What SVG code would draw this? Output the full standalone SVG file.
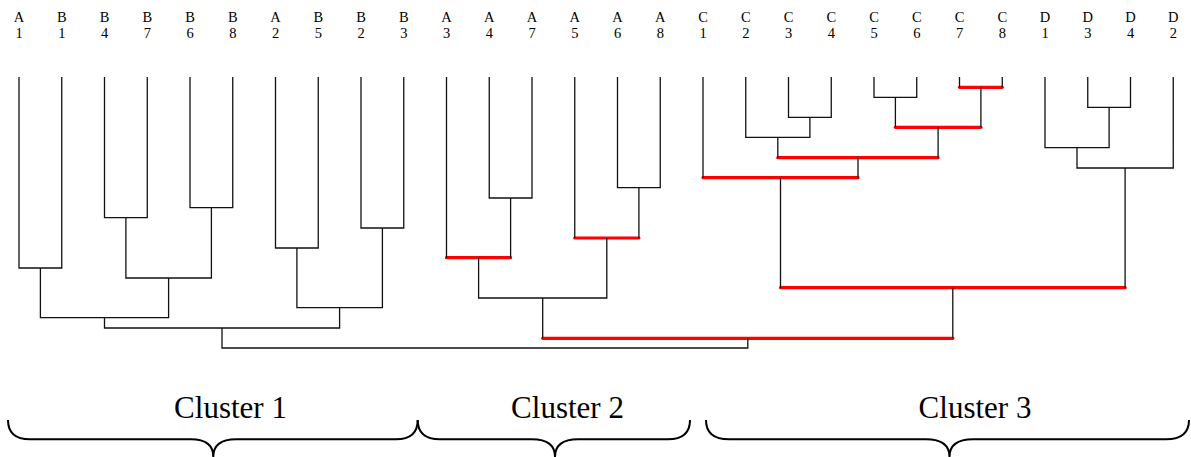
<svg xmlns="http://www.w3.org/2000/svg" width="1191" height="457" viewBox="0 0 1191 457">
<style>
.lbl{font-family:"Liberation Serif","Times New Roman",serif;font-size:14.5px;fill:#000;text-anchor:middle}
.cl{font-family:"Liberation Serif","Times New Roman",serif;font-size:31px;fill:#000;text-anchor:middle}
.k{fill:none;stroke:#111;stroke-width:1.3}
.r{fill:none;stroke:#ff0000;stroke-width:3.2;stroke-linecap:round}
.br{fill:none;stroke:#000;stroke-width:2}
</style>
<rect width="1191" height="457" fill="#fff"/>
<g id="leaves">
<g id="leaf-A1"><text class="lbl" x="19" y="21.5">A</text><text class="lbl" x="19" y="38">1</text></g>
<g id="leaf-B1"><text class="lbl" x="61.75" y="21.5">B</text><text class="lbl" x="61.75" y="38">1</text></g>
<g id="leaf-B4"><text class="lbl" x="104.5" y="21.5">B</text><text class="lbl" x="104.5" y="38">4</text></g>
<g id="leaf-B7"><text class="lbl" x="147.25" y="21.5">B</text><text class="lbl" x="147.25" y="38">7</text></g>
<g id="leaf-B6"><text class="lbl" x="190" y="21.5">B</text><text class="lbl" x="190" y="38">6</text></g>
<g id="leaf-B8"><text class="lbl" x="232.75" y="21.5">B</text><text class="lbl" x="232.75" y="38">8</text></g>
<g id="leaf-A2"><text class="lbl" x="275.5" y="21.5">A</text><text class="lbl" x="275.5" y="38">2</text></g>
<g id="leaf-B5"><text class="lbl" x="318.25" y="21.5">B</text><text class="lbl" x="318.25" y="38">5</text></g>
<g id="leaf-B2"><text class="lbl" x="361" y="21.5">B</text><text class="lbl" x="361" y="38">2</text></g>
<g id="leaf-B3"><text class="lbl" x="403.75" y="21.5">B</text><text class="lbl" x="403.75" y="38">3</text></g>
<g id="leaf-A3"><text class="lbl" x="446.5" y="21.5">A</text><text class="lbl" x="446.5" y="38">3</text></g>
<g id="leaf-A4"><text class="lbl" x="489.25" y="21.5">A</text><text class="lbl" x="489.25" y="38">4</text></g>
<g id="leaf-A7"><text class="lbl" x="532" y="21.5">A</text><text class="lbl" x="532" y="38">7</text></g>
<g id="leaf-A5"><text class="lbl" x="574.75" y="21.5">A</text><text class="lbl" x="574.75" y="38">5</text></g>
<g id="leaf-A6"><text class="lbl" x="617.5" y="21.5">A</text><text class="lbl" x="617.5" y="38">6</text></g>
<g id="leaf-A8"><text class="lbl" x="660.25" y="21.5">A</text><text class="lbl" x="660.25" y="38">8</text></g>
<g id="leaf-C1"><text class="lbl" x="703" y="21.5">C</text><text class="lbl" x="703" y="38">1</text></g>
<g id="leaf-C2"><text class="lbl" x="745.75" y="21.5">C</text><text class="lbl" x="745.75" y="38">2</text></g>
<g id="leaf-C3"><text class="lbl" x="788.5" y="21.5">C</text><text class="lbl" x="788.5" y="38">3</text></g>
<g id="leaf-C4"><text class="lbl" x="831.25" y="21.5">C</text><text class="lbl" x="831.25" y="38">4</text></g>
<g id="leaf-C5"><text class="lbl" x="874" y="21.5">C</text><text class="lbl" x="874" y="38">5</text></g>
<g id="leaf-C6"><text class="lbl" x="916.75" y="21.5">C</text><text class="lbl" x="916.75" y="38">6</text></g>
<g id="leaf-C7"><text class="lbl" x="959.5" y="21.5">C</text><text class="lbl" x="959.5" y="38">7</text></g>
<g id="leaf-C8"><text class="lbl" x="1002.25" y="21.5">C</text><text class="lbl" x="1002.25" y="38">8</text></g>
<g id="leaf-D1"><text class="lbl" x="1045" y="21.5">D</text><text class="lbl" x="1045" y="38">1</text></g>
<g id="leaf-D3"><text class="lbl" x="1087.75" y="21.5">D</text><text class="lbl" x="1087.75" y="38">3</text></g>
<g id="leaf-D4"><text class="lbl" x="1130.5" y="21.5">D</text><text class="lbl" x="1130.5" y="38">4</text></g>
<g id="leaf-D2"><text class="lbl" x="1173.25" y="21.5">D</text><text class="lbl" x="1173.25" y="38">2</text></g>
</g>
<g id="connectors">
<g id="red-links">
<path class="r" d="M446.5,257.7H510.6"/>
<path class="r" d="M574.75,238H638.9"/>
<path class="r" d="M959.5,87.3H1002.25"/>
<path class="r" d="M895.4,127.3H980.9"/>
<path class="r" d="M777.8,157.7H938.1"/>
<path class="r" d="M703,177.7H858"/>
<path class="r" d="M780.5,287.7H1125.1"/>
<path class="r" d="M542.7,338.3H952.8"/>
</g>
<g id="black-links">
<path class="k" d="M19,77V268H61.75V77"/>
<path class="k" d="M104.5,77V217.7H147.25V77"/>
<path class="k" d="M190,77V207.7H232.75V77"/>
<path class="k" d="M125.9,217.7V278H211.4V207.7"/>
<path class="k" d="M40.4,268V317.7H168.6V278"/>
<path class="k" d="M275.5,77V248H318.25V77"/>
<path class="k" d="M361,77V228H403.75V77"/>
<path class="k" d="M296.9,248V307.7H382.4V228"/>
<path class="k" d="M104.5,317.7V328H339.6V307.7"/>
<path class="k" d="M489.25,77V198H532V77"/>
<path class="k" d="M446.5,77V257.7M510.6,198V257.7"/>
<path class="k" d="M617.5,77V187.7H660.25V77"/>
<path class="k" d="M574.75,77V238M638.9,187.7V238"/>
<path class="k" d="M478.6,257.7V298H606.8V238"/>
<path class="k" d="M788.5,77V117.3H831.25V77"/>
<path class="k" d="M745.75,77V137.3H809.9V117.3"/>
<path class="k" d="M874,77V97.3H916.75V77"/>
<path class="k" d="M959.5,77V87.3M1002.25,77V87.3"/>
<path class="k" d="M895.4,97.3V127.3M980.9,87.3V127.3"/>
<path class="k" d="M777.8,137.3V157.7M938.1,127.3V157.7"/>
<path class="k" d="M703,77V177.7M858,157.7V177.7"/>
<path class="k" d="M1087.75,77V107.3H1130.5V77"/>
<path class="k" d="M1045,77V147.7H1109.1V107.3"/>
<path class="k" d="M1077,147.7V168H1173.25V77"/>
<path class="k" d="M780.5,177.7V287.7M1125.1,168V287.7"/>
<path class="k" d="M542.7,298V338.3M952.8,287.7V338.3"/>
<path class="k" d="M222,328V348H747.8V338.3"/>
</g>
</g>
<g id="cluster-1">
<text class="cl" x="230.5" y="418">Cluster 1</text>
<path class="br" d="M8,420Q8,439.3 30,439.3H191Q213.3,439.3 213.3,457Q213.3,439.3 236,439.3H396Q417.7,439.3 417.7,420"/>
</g>
<g id="cluster-2">
<text class="cl" x="567.5" y="418">Cluster 2</text>
<path class="br" d="M417.7,420Q417.7,439.3 440,439.3H532Q555,439.3 555,457Q555,439.3 578,439.3H668Q690,439.3 690,420"/>
</g>
<g id="cluster-3">
<text class="cl" x="975" y="418">Cluster 3</text>
<path class="br" d="M706,420Q706,439.3 729,439.3H926Q949.5,439.3 949.5,457Q949.5,439.3 973,439.3H1166Q1189,439.3 1189,420"/>
</g>
</svg>
